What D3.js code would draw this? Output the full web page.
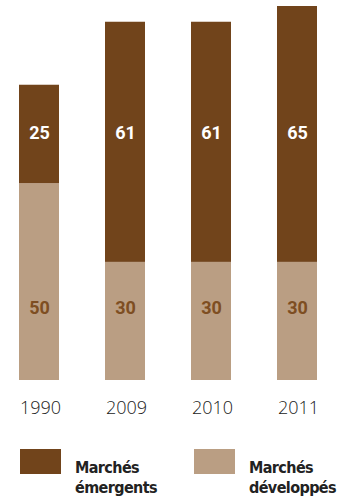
<!DOCTYPE html>
<html>
<head>
<meta charset="utf-8">
<script src="https://cdn.jsdelivr.net/npm/d3@7"></script>
<style>
  html, body { margin: 0; padding: 0; background: #fff; }
  svg { display: block; }
</style>
</head>
<body>
<svg id="chart" width="343" height="502"></svg>
<script>
// Years on the x axis
const years = ["1990", "2009", "2010", "2011"];
// Stacked shares per year
const emergents = [25, 61, 61, 65];
const developpes = [50, 30, 30, 30];
// Legend entries
const legendLabels = [["Marchés", "émergents"], ["Marchés", "développés"]];

const colors = { emergents: "#71441b", developpes: "#ba9e83" };

const svg = d3.select("#chart");

const x = d3.scaleBand()
  .domain(years)
  .range([19, 317])
  .paddingInner(0.535)
  .paddingOuter(0);

const y = d3.scaleLinear()
  .domain([0, 95])
  .range([380, 6]);

const rows = years.map((yr, i) => ({ year: yr, developpes: developpes[i], emergents: emergents[i] }));
const stack = d3.stack().keys(["developpes", "emergents"]);
const series = stack(rows);

svg.append("g")
  .selectAll("g")
  .data(series)
  .join("g")
  .attr("fill", d => colors[d.key])
  .selectAll("rect")
  .data(d => d)
  .join("rect")
  .attr("x", d => x(d.data.year))
  .attr("width", x.bandwidth())
  .attr("y", d => y(d[1]))
  .attr("height", d => y(d[0]) - y(d[1]));

// Value labels sit at a shared height inside each segment band
const labelFont = "Roboto, 'Liberation Sans', sans-serif";
svg.append("g")
  .selectAll("text")
  .data(rows)
  .join("text")
  .attr("x", d => x(d.year) + x.bandwidth() / 2 + 0.5)
  .attr("y", 139)
  .attr("text-anchor", "middle")
  .attr("font-family", labelFont)
  .attr("font-weight", 700)
  .attr("font-size", 18)
  .attr("fill", "#ffffff")
  .text(d => d.emergents);

svg.append("g")
  .selectAll("text")
  .data(rows)
  .join("text")
  .attr("x", d => x(d.year) + x.bandwidth() / 2 + 0.5)
  .attr("y", 314)
  .attr("text-anchor", "middle")
  .attr("font-family", labelFont)
  .attr("font-weight", 700)
  .attr("font-size", 18)
  .attr("fill", "#7e4e22")
  .text(d => d.developpes);

// Year axis, no line or ticks
const xAxis = svg.append("g")
  .attr("transform", "translate(1.5,380)")
  .call(d3.axisBottom(x).tickSize(0).tickPadding(0));
xAxis.select(".domain").remove();
xAxis.selectAll("text")
  .attr("y", 34)
  .attr("dy", null)
  .attr("font-family", "'Open Sans', sans-serif")
  .attr("font-weight", 300)
  .attr("font-size", 18)
  .attr("fill", "#1a1a1a");

// Legend
const legendX = [20, 194];
const legendKeys = ["emergents", "developpes"];
const legend = svg.append("g")
  .selectAll("g")
  .data(legendKeys)
  .join("g")
  .attr("transform", (d, i) => `translate(${legendX[i]},449)`);

legend.append("rect")
  .attr("width", 41)
  .attr("height", 25)
  .attr("fill", d => colors[d]);

legend.append("text")
  .attr("x", 55)
  .attr("y", 24)
  .attr("font-family", "'DejaVu Sans Condensed', 'DejaVu Sans', sans-serif")
  .attr("font-stretch", "condensed")
  .attr("font-weight", 700)
  .attr("font-size", 16)
  .attr("letter-spacing", -0.6)
  .attr("fill", "#222222")
  .selectAll("tspan")
  .data((d, i) => legendLabels[i])
  .join("tspan")
  .attr("x", 55)
  .attr("dy", (d, j) => j === 0 ? 0 : 20)
  .text(d => d);
</script>
</body>
</html>
